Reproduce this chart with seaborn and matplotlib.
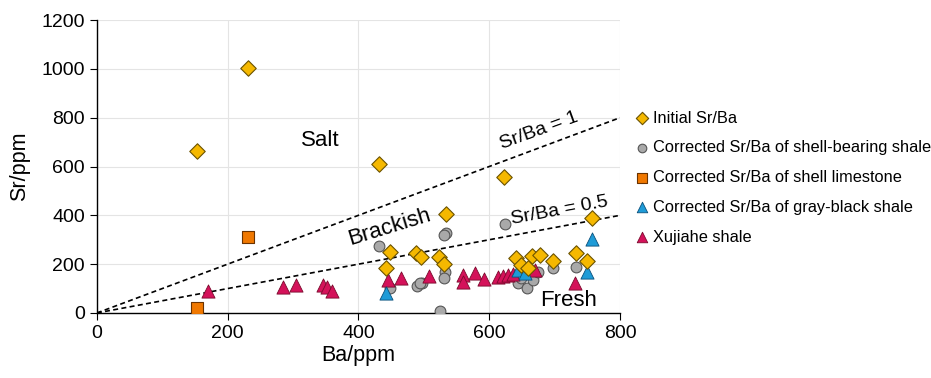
import matplotlib
matplotlib.use("Agg")
import matplotlib.pyplot as plt
import seaborn as sns
import numpy as np

# data
initial_ba = [153, 231, 431, 622, 534, 757, 448, 442, 488, 495, 523, 531, 641, 666, 677, 649, 697, 732, 749, 659]
initial_sr = [665, 1003, 610, 557, 405, 389, 250, 184, 246, 229, 229, 200, 225, 233, 238, 197, 213, 246, 213, 184]

shell_ba = [431, 534, 531, 532, 531, 448, 489, 497, 524, 624, 697, 732, 644, 657, 667, 675, 649, 494]
shell_sr = [274, 328, 318, 168, 143, 102, 111, 123, 8, 366, 184, 188, 123, 102, 135, 168, 143, 123]

lime_ba = [153, 231]
lime_sr = [20, 311]

gray_ba = [442, 644, 654, 757, 749]
gray_sr = [82, 176, 164, 303, 168]

xuj_ba = [170, 284, 304, 346, 352, 359, 445, 465, 508, 560, 560, 578, 592, 613, 621, 628, 636, 670, 731]
xuj_sr = [90, 107, 115, 115, 105, 90, 135, 143, 152, 156, 127, 164, 139, 148, 152, 156, 160, 176, 123]

sns.set_style("whitegrid")
plt.rcParams['font.family'] = ['Liberation Sans', 'DejaVu Sans']
plt.rcParams['text.color'] = "black"
plt.rcParams['axes.labelcolor'] = "black"
plt.rcParams['xtick.color'] = "black"
plt.rcParams['ytick.color'] = "black"

fig = plt.figure(figsize=(9.31, 3.78), dpi=100)
ax = fig.add_axes([0.104, 0.172, 0.562, 0.775])

# reference lines Sr/Ba = 1 and 0.5
xl = np.array([0, 800])
ax.plot(xl, xl * 1.0, ls=(0, (3, 2)), color="black", lw=1.2, zorder=1)
ax.plot(xl, xl * 0.5, ls=(0, (3, 2)), color="black", lw=1.2, zorder=1)

sns.scatterplot(x=shell_ba, y=shell_sr, ax=ax, marker="o", s=60, color="#A9A9A9",
                edgecolor="#555555", linewidth=0.8, zorder=3,
                label="Corrected Sr/Ba of shell-bearing shale")
sns.scatterplot(x=xuj_ba, y=xuj_sr, ax=ax, marker="^", s=90, color="#D4125A",
                edgecolor="#7A0A2C", linewidth=0.6, zorder=4, label="Xujiahe shale")
sns.scatterplot(x=gray_ba, y=gray_sr, ax=ax, marker="^", s=90, color="#1E9BD7",
                edgecolor="#0A4F7A", linewidth=0.6, zorder=5,
                label="Corrected Sr/Ba of gray-black shale")
sns.scatterplot(x=lime_ba, y=lime_sr, ax=ax, marker="s", s=80, color="#F07800",
                edgecolor="#6B3300", linewidth=0.8, zorder=5,
                label="Corrected Sr/Ba of shell limestone")
sns.scatterplot(x=initial_ba, y=initial_sr, ax=ax, marker="D", s=62, color="#F5B800",
                edgecolor="#6B5200", linewidth=0.8, zorder=6, label="Initial Sr/Ba")

ax.set_xlim(0, 800)
ax.set_ylim(0, 1200)
ax.set_xticks([0, 200, 400, 600, 800])
ax.set_yticks(range(0, 1201, 200))
ax.set_xlabel("Ba/ppm", fontsize=15.5, labelpad=2)
ax.set_ylabel("Sr/ppm", fontsize=15.5, labelpad=8)
ax.tick_params(labelsize=14, direction="out", length=5, color="black", left=True, bottom=True)
ax.grid(color="#E4E4E4", lw=0.8)
for side in ["top", "right"]:
    ax.spines[side].set_visible(False)
for side in ["left", "bottom"]:
    ax.spines[side].set_color("black")
    ax.spines[side].set_linewidth(1.0)

# region labels
ax.text(341, 708, "Salt", fontsize=16, ha="center", va="center")
ax.text(447, 350, "Brackish", fontsize=16, ha="center", va="center", rotation=17)
ax.text(722, 53, "Fresh", fontsize=16, ha="center", va="center")
ax.text(676, 745, "Sr/Ba = 1", fontsize=14, ha="center", va="center", rotation=20)
ax.text(708, 420, "Sr/Ba = 0.5", fontsize=14, ha="center", va="center", rotation=10.5)

handles, labels = ax.get_legend_handles_labels()
order = [4, 0, 3, 2, 1]
ax.legend([handles[i] for i in order], [labels[i] for i in order],
          loc="upper left", bbox_to_anchor=(0.672, 0.725), bbox_transform=fig.transFigure,
          frameon=False, fontsize=11.8, handletextpad=0.1, labelspacing=0.9,
          borderaxespad=0, handlelength=1.2, markerscale=0.8)

fig.savefig("out.png", dpi=100)
